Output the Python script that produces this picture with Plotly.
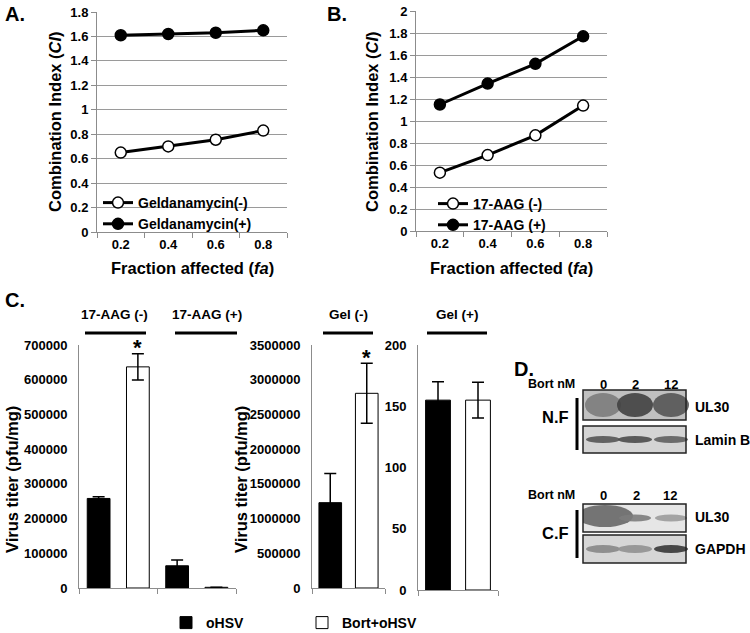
import plotly.graph_objects as go

W, H = 750, 633
FONT = "Liberation Sans, Arial, sans-serif"

# ---------------- data ----------------
fa_values = [0.2, 0.4, 0.6, 0.8]
fa_labels = ["0.2", "0.4", "0.6", "0.8"]
gel_minus = [0.65, 0.70, 0.755, 0.83]
gel_plus = [1.61, 1.62, 1.63, 1.65]
aag_minus = [0.53, 0.69, 0.87, 1.14]
aag_plus = [1.15, 1.34, 1.52, 1.77]

c1_groups = ["17-AAG (-)", "17-AAG (+)"]
c1_ohsv = [258000, 64000]
c1_ohsv_err = [5000, 17000]
c1_bort = [637000, 2000]
c1_bort_err = [38000, 0]

c2_groups = ["Gel (-)"]
c2_ohsv = [1229000]
c2_ohsv_err = [420000]
c2_bort = [2804000]
c2_bort_err = [432000]

c3_groups = ["Gel (+)"]
c3_ohsv = [155]
c3_ohsv_err = [15]
c3_bort = [155]
c3_bort_err = [14.5]

bort_doses = ["0", "2", "12"]
nf_ul30 = [0.55, 0.85, 0.75]
nf_lamin = [0.75, 0.8, 0.7]
cf_ul30 = [0.7, 0.55, 0.4]
cf_gapdh = [0.5, 0.45, 0.9]


def X(px):
    return px / W


def Y(py):
    return 1 - py / H


fig = go.Figure()

line_style = dict(color="black", width=3)

# ---------------- Panel A ----------------
fig.add_trace(go.Scatter(x=fa_values, y=gel_minus, name="Geldanamycin(-)", mode="lines+markers",
                         line=line_style, legendgroup="a1", legend="legend",
                         marker=dict(size=11, color="white", line=dict(color="black", width=1.5)),
                         xaxis="x", yaxis="y"))
fig.add_trace(go.Scatter(x=fa_values, y=gel_plus, name="Geldanamycin(+)", mode="lines+markers",
                         line=line_style, legendgroup="a2", legend="legend",
                         marker=dict(size=11, color="black", line=dict(color="black", width=1.5)),
                         xaxis="x", yaxis="y"))
# ---------------- Panel B ----------------
fig.add_trace(go.Scatter(x=fa_values, y=aag_minus, name="17-AAG (-)", mode="lines+markers",
                         line=line_style, legendgroup="b1", legend="legend2",
                         marker=dict(size=11, color="white", line=dict(color="black", width=1.5)),
                         xaxis="x2", yaxis="y2"))
fig.add_trace(go.Scatter(x=fa_values, y=aag_plus, name="17-AAG (+)", mode="lines+markers",
                         line=line_style, legendgroup="b2", legend="legend2",
                         marker=dict(size=11, color="black", line=dict(color="black", width=1.5)),
                         xaxis="x2", yaxis="y2"))

# ---------------- Panel C ----------------
def bars(groups, ohsv, ohsv_err, bort, bort_err, xa, ya, width, show):
    xs_o = [i + 0.25 for i in range(len(groups))]
    xs_b = [i + 0.75 for i in range(len(groups))]
    eb = dict(type="data", thickness=1.5, width=6, color="black")
    fig.add_trace(go.Bar(x=xs_o, y=ohsv, width=width, name="oHSV", legend="legend3",
                         marker=dict(color="black", line=dict(color="black", width=1)),
                         error_y=dict(array=ohsv_err, **eb), showlegend=show,
                         xaxis=xa, yaxis=ya))
    fig.add_trace(go.Bar(x=xs_b, y=bort, width=width, name="Bort+oHSV", legend="legend3",
                         marker=dict(color="white", line=dict(color="black", width=1)),
                         error_y=dict(array=bort_err, **eb), showlegend=show,
                         xaxis=xa, yaxis=ya))


bars(c1_groups, c1_ohsv, c1_ohsv_err, c1_bort, c1_bort_err, "x3", "y3", 0.29, True)
bars(c2_groups, c2_ohsv, c2_ohsv_err, c2_bort, c2_bort_err, "x4", "y4", 0.31, False)
bars(c3_groups, c3_ohsv, c3_ohsv_err, c3_bort, c3_bort_err, "x5", "y5", 0.31, False)

tickfont = dict(family=FONT, size=13, color="black", weight="bold")
grey = "#8c8c8c"

lineaxis_x = dict(range=[0.1, 0.9], tickvals=fa_values, ticktext=fa_labels, ticks="",
                  showline=True, linecolor=grey, linewidth=1, showgrid=False, zeroline=False,
                  tickfont=tickfont, fixedrange=True, automargin=False,
                  minor=dict(tick0=0.1, dtick=0.2, ticks="outside", ticklen=5, tickcolor=grey,
                             showgrid=False))
lineaxis_y = dict(showline=True, linecolor=grey, linewidth=1, showgrid=True, gridcolor="#9a9a9a",
                  gridwidth=1, zeroline=False, ticks="outside", ticklen=5, tickcolor=grey,
                  tickfont=tickfont, dtick=0.2, fixedrange=True, automargin=False)

layout = dict(
    template="none",
    width=W, height=H, margin=dict(l=0, r=0, t=0, b=0, autoexpand=False),
    paper_bgcolor="white", plot_bgcolor="white",
    font=dict(family=FONT, color="black"),
    barmode="overlay", showlegend=True,
    xaxis=dict(domain=[X(97), X(287)], anchor="y", **lineaxis_x),
    yaxis=dict(domain=[Y(232), Y(12)], anchor="x", range=[0, 1.8], **lineaxis_y),
    xaxis2=dict(domain=[X(416), X(607)], anchor="y2", **lineaxis_x),
    yaxis2=dict(domain=[Y(231), Y(11)], anchor="x2", range=[0, 2.0], **lineaxis_y),
)

baraxis_y = dict(showline=True, linecolor=grey, linewidth=1, showgrid=False, zeroline=False,
                 ticks="", tickfont=tickfont, tickformat="d", ticklabelstandoff=8, fixedrange=True,
                 automargin=False)
baraxis_x = dict(ticks="outside", ticklen=5, tickcolor=grey, showline=True, linecolor=grey,
                 showgrid=False, zeroline=False, fixedrange=True, automargin=False)
layout["xaxis3"] = dict(domain=[X(79), X(236)], anchor="y3", range=[0, 2], tickvals=[0, 1, 2],
                        ticktext=["", "", ""], **baraxis_x)
layout["yaxis3"] = dict(domain=[Y(588), Y(345)], anchor="x3", range=[0, 700000], dtick=100000, **baraxis_y)
layout["xaxis4"] = dict(domain=[X(312), X(385)], anchor="y4", range=[0, 1], tickvals=[0, 1],
                        ticktext=["", ""], **baraxis_x)
layout["yaxis4"] = dict(domain=[Y(588), Y(345)], anchor="x4", range=[0, 3500000], dtick=500000, **baraxis_y)
layout["xaxis5"] = dict(domain=[X(418), X(498)], anchor="y5", range=[0, 1], tickvals=[0, 1],
                        ticktext=["", ""], **baraxis_x)
layout["yaxis5"] = dict(domain=[Y(590), Y(345)], anchor="x5", range=[0, 200], dtick=50, **baraxis_y)

legfont = dict(family=FONT, size=14, color="black", weight="bold")
layout["legend"] = dict(x=X(98), y=Y(187), xanchor="left", yanchor="top", bgcolor="rgba(0,0,0,0)",
                        font=legfont, tracegroupgap=3, itemwidth=30, traceorder="normal", borderwidth=0)
layout["legend2"] = dict(x=X(433), y=Y(188), xanchor="left", yanchor="top", bgcolor="rgba(0,0,0,0)",
                         font=legfont, tracegroupgap=3, itemwidth=30, traceorder="normal", borderwidth=0)
layout["legend3"] = dict(x=X(166), y=Y(623), xanchor="left", yanchor="middle", orientation="h",
                         bgcolor="rgba(0,0,0,0)", font=dict(family=FONT, size=14, color="black", weight="bold"),
                         entrywidth=91, entrywidthmode="pixels", itemwidth=30, borderwidth=0)

annotations = []
shapes = []


def txt(text, x, y, size, xanchor="center", yanchor="middle", angle=0, xref="paper", yref="paper", yshift=0):
    annotations.append(dict(text=text, x=x, y=y, xref=xref, yref=yref, showarrow=False,
                            xanchor=xanchor, yanchor=yanchor, textangle=angle, yshift=yshift,
                            font=dict(family=FONT, size=size, color="black", weight="bold")))


# panel letters
txt("A.", X(3), Y(14), 20, xanchor="left")
txt("B.", X(325), Y(14), 20, xanchor="left")
txt("C.", X(3), Y(300), 20, xanchor="left")
txt("D.", X(512), Y(369), 20, xanchor="left")

# axis titles A/B
txt("Combination Index (<i>CI</i>)", X(55), Y(122), 16.5, angle=-90)
txt("Combination Index (<i>CI</i>)", X(372), Y(122), 16.5, angle=-90)
txt("Fraction affected (<i>fa</i>)", X(192), Y(268), 16.5)
txt("Fraction affected (<i>fa</i>)", X(511), Y(268), 16.5)

# axis titles C
txt("Virus titer (pfu/mg)", X(12), Y(480), 16.5, angle=-90)
txt("Virus titer (pfu/mg)", X(241), Y(480), 16.5, angle=-90)

# group labels C
for label, cx, x0, x1 in [(c1_groups[0], 115, 85, 146), (c1_groups[1], 207, 175, 237),
                          (c2_groups[0], 348, 323, 373), (c3_groups[0], 457, 427, 487)]:
    txt(label, X(cx), Y(315), 13.5)
    shapes.append(dict(type="line", xref="paper", yref="paper", x0=X(x0), x1=X(x1),
                       y0=Y(333), y1=Y(333), line=dict(color="black", width=3)))

# significance asterisks
txt("*", 0.75, c1_bort[0] + c1_bort_err[0], 22, xref="x3", yref="y3", yshift=6)
txt("*", 0.75, c2_bort[0] + c2_bort_err[0], 22, xref="x4", yref="y4", yshift=6)

# ---------------- Panel D (western blots) ----------------
lane_px = [603, 635, 671]
box_x0, box_x1 = 583, 686


def strip(y0, y1, intensities, band_h, fill, hw=16, first_smear=None):
    shapes.append(dict(type="rect", xref="paper", yref="paper", x0=X(box_x0), x1=X(box_x1),
                       y0=Y(y1), y1=Y(y0), fillcolor=fill, line=dict(width=0), layer="below"))
    cy = (y0 + y1) / 2
    for k, (lx, v) in enumerate(zip(lane_px, intensities)):
        g = int(235 - 200 * v)
        col = f"rgb({g},{g},{g})"
        if k == 0 and first_smear:
            sw, sh, dy = first_smear
            shapes.append(dict(type="circle", xref="paper", yref="paper", x0=X(box_x0 - 6), x1=X(box_x0 + sw),
                               y0=Y(cy + dy + sh / 2), y1=Y(cy + dy - sh / 2), fillcolor=col,
                               opacity=0.85, line=dict(width=0), layer="below"))
            continue
        shapes.append(dict(type="circle", xref="paper", yref="paper", x0=X(lx - hw), x1=X(lx + hw),
                           y0=Y(cy + band_h / 2), y1=Y(cy - band_h / 2), fillcolor=col,
                           opacity=0.9, line=dict(width=0), layer="below"))
    # cover overflow to the left of the box
    shapes.append(dict(type="rect", xref="paper", yref="paper", x0=X(box_x0 - 8), x1=X(box_x0),
                       y0=Y(y1 + 1), y1=Y(y0 - 1), fillcolor="white", line=dict(width=0), layer="below"))
    shapes.append(dict(type="rect", xref="paper", yref="paper", x0=X(box_x0), x1=X(box_x1),
                       y0=Y(y1), y1=Y(y0), line=dict(color="#222", width=1.5)))


strip(390, 420, nf_ul30, 24, "#c0c0c0", hw=18)
strip(426, 453, nf_lamin, 7, "#d4d4d4", hw=17)
strip(504, 532, cf_ul30, 7, "#e6e6e6", first_smear=(50, 22, -2))
strip(535, 563, cf_gapdh, 8, "#d6d6d6", hw=17)

for ytop, lanes in [(384, lane_px), (495, [603, 636, 670])]:
    txt("Bort nM", X(577), Y(ytop), 12.5, xanchor="right")
    for lx, d in zip(lanes, bort_doses):
        txt(d, X(lx), Y(ytop), 13)

txt("UL30", X(693), Y(407), 14, xanchor="left")
txt("Lamin B", X(693), Y(440), 14, xanchor="left")
txt("UL30", X(693), Y(517), 14, xanchor="left")
txt("GAPDH", X(693), Y(549), 14, xanchor="left")
txt("N.F", X(555), Y(417), 16.5)
txt("C.F", X(555), Y(533), 16.5)
shapes.append(dict(type="line", xref="paper", yref="paper", x0=X(577), x1=X(577), y0=Y(398), y1=Y(450),
                   line=dict(color="black", width=3)))
shapes.append(dict(type="line", xref="paper", yref="paper", x0=X(577), x1=X(577), y0=Y(510), y1=Y(558),
                   line=dict(color="black", width=3)))

layout["annotations"] = annotations
layout["shapes"] = shapes
fig.update_layout(**layout)

fig.write_html("out.html", config={"displayModeBar": False},
               post_script="document.body.style.margin='0';document.body.style.overflow='hidden';")
